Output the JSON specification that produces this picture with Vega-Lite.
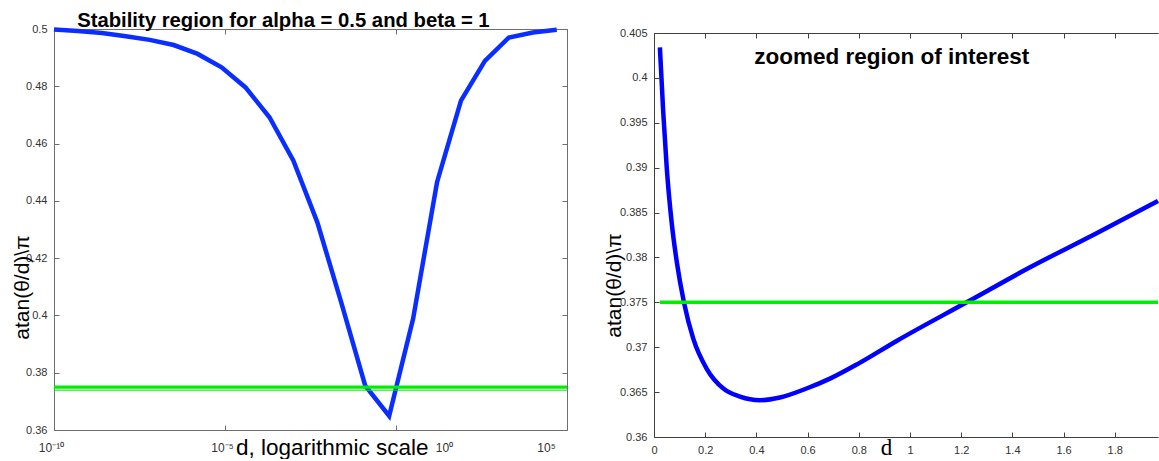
{
  "$schema": "https://vega.github.io/schema/vega-lite/v6.json",
  "autosize": {"type": "pad"},
  "padding": {"left": 11, "top": 11, "right": 0, "bottom": 0},
  "background": "white",
  "bounds": "flush",
  "spacing": 87,
  "config": {
    "view": {"stroke": null},
    "font": "Liberation Sans",
    "axis": {
      "grid": false,
      "labelFont": "Liberation Sans",
      "titleFont": "Liberation Sans",
      "labelColor": "#333333",
      "titleColor": "#000000",
      "titleFontWeight": "normal",
      "labelFlush": false,
      "labelOverlap": false,
      "tickSize": -5,
      "labelFontSize": 11
    }
  },
  "datasets": {
    "leftCurve": [
      {"d": 1e-10, "v": 0.4998},
      {"d": 5.012e-10, "v": 0.4993},
      {"d": 2.512e-9, "v": 0.4986},
      {"d": 1.259e-8, "v": 0.4975},
      {"d": 6.31e-8, "v": 0.4962},
      {"d": 3.162e-7, "v": 0.4944},
      {"d": 1.585e-6, "v": 0.4913},
      {"d": 7.943e-6, "v": 0.4866},
      {"d": 3.981e-5, "v": 0.4796},
      {"d": 1.995e-4, "v": 0.4692},
      {"d": 0.001, "v": 0.454},
      {"d": 0.005012, "v": 0.4325},
      {"d": 0.02512, "v": 0.4045},
      {"d": 0.1259, "v": 0.3755},
      {"d": 0.631, "v": 0.3649},
      {"d": 3.162, "v": 0.3988},
      {"d": 15.85, "v": 0.4465},
      {"d": 79.43, "v": 0.475},
      {"d": 398.1, "v": 0.4889},
      {"d": 1995, "v": 0.497},
      {"d": 10000, "v": 0.4988},
      {"d": 50119, "v": 0.4997}
    ],
    "leftGreen": [
      {"d": 1e-10, "v": 0.37494},
      {"d": 100000, "v": 0.37494}
    ],
    "leftGreenThin": [
      {"d": 1e-10, "v": 0.3739},
      {"d": 100000, "v": 0.3739}
    ],
    "leftTitle": [
      {"label": "Stability region for alpha = 0.5 and beta = 1"}
    ],
    "rightCurve": [
      {"d": 0.023, "v": 0.4034},
      {"d": 0.036, "v": 0.3962},
      {"d": 0.05, "v": 0.3899},
      {"d": 0.069, "v": 0.3839},
      {"d": 0.089, "v": 0.3795},
      {"d": 0.117, "v": 0.375},
      {"d": 0.154, "v": 0.3709},
      {"d": 0.206, "v": 0.3676},
      {"d": 0.271, "v": 0.3654},
      {"d": 0.336, "v": 0.3645},
      {"d": 0.414, "v": 0.3641},
      {"d": 0.492, "v": 0.3644},
      {"d": 0.596, "v": 0.3654},
      {"d": 0.6875, "v": 0.3665},
      {"d": 0.8, "v": 0.3682},
      {"d": 0.948, "v": 0.3707},
      {"d": 1.2215, "v": 0.375},
      {"d": 1.469, "v": 0.3789},
      {"d": 1.729, "v": 0.3827},
      {"d": 1.969, "v": 0.3863}
    ],
    "rightGreen": [
      {"d": 0.023, "v": 0.375},
      {"d": 1.969, "v": 0.375}
    ],
    "rightTitle": [
      {"label": "zoomed region of interest"}
    ]
  },
  "hconcat": [
    {
      "width": 513,
      "height": 401,
      "resolve": {"axis": {"x": "independent", "y": "independent"}},
      "layer": [
        {
          "data": {"name": "leftCurve"},
          "mark": {"type": "line", "color": "#0a2eff", "strokeWidth": 4.5},
          "encoding": {
            "x": {
              "field": "d", "type": "quantitative",
              "scale": {"type": "log", "domain": [1e-10, 100000], "nice": false},
              "axis": {
                "orient": "bottom",
                "values": [1e-10, 1e-5, 1, 100000],
                "labelExpr": "datum.value < 1e-7 ? '10⁻¹⁰' : datum.value < 0.01 ? '10⁻⁵' : datum.value < 10 ? '10⁰' : '10⁵'",
                "labelFontSize": 12,
                "labelPadding": 17,
                "labelOffset": {"condition": [{"test": "datum.value > 0.1 && datum.value < 10", "value": 48}, {"test": "datum.value > 1000", "value": -21}], "value": -3},
                "domainColor": "#6e6e6e",
                "tickColor": "#6e6e6e",
                "title": "d, logarithmic scale",
                "titleFontSize": 22.5,
                "titleX": 277.7,
                "titleY": 24.5,
                "titleBaseline": "alphabetic",
                "titleAlign": "center"
              }
            },
            "y": {
              "field": "v", "type": "quantitative",
              "scale": {"domain": [0.36, 0.5], "zero": false, "nice": false},
              "axis": {
                "orient": "left",
                "values": [0.36, 0.38, 0.4, 0.42, 0.44, 0.46, 0.48, 0.5],
                "format": "~g",
                "labelPadding": 12,
                "domainColor": "#6e6e6e",
                "tickColor": "#6e6e6e",
                "title": "atan(θ/d)\\π",
                "titleFontSize": 21,
                "titleX": -25.7,
                "titleY": 258,
                "titleAngle": 270,
                "titleBaseline": "alphabetic",
                "titleAlign": "center"
              }
            }
          }
        },
        {
          "data": {"name": "leftGreenThin"},
          "mark": {"type": "line", "color": "#00ee00", "strokeWidth": 1},
          "encoding": {
            "x": {"field": "d", "type": "quantitative", "axis": null},
            "y": {"field": "v", "type": "quantitative", "axis": null}
          }
        },
        {
          "data": {"name": "leftGreen"},
          "mark": {"type": "line", "color": "#00ee00", "strokeWidth": 3.3},
          "encoding": {
            "x": {
              "field": "d", "type": "quantitative",
              "axis": {"orient": "top", "values": [1e-10, 1e-5, 1, 100000], "labels": false, "title": null, "domainColor": "#6e6e6e", "tickColor": "#6e6e6e"}
            },
            "y": {
              "field": "v", "type": "quantitative",
              "axis": {"orient": "right", "values": [0.36, 0.38, 0.4, 0.42, 0.44, 0.46, 0.48, 0.5], "labels": false, "title": null, "domainColor": "#6e6e6e", "tickColor": "#6e6e6e"}
            }
          }
        },
        {
          "data": {"name": "leftTitle"},
          "mark": {"type": "text", "font": "Liberation Sans", "fontSize": 20.3, "fontWeight": "bold", "color": "#000000", "align": "center", "baseline": "alphabetic"},
          "encoding": {
            "x": {"datum": 0.00051, "type": "quantitative", "axis": null},
            "y": {"datum": 0.5006, "type": "quantitative", "axis": null},
            "text": {"field": "label"}
          }
        }
      ]
    },
    {
      "width": 504,
      "height": 408,
      "resolve": {"axis": {"x": "independent", "y": "independent"}},
      "layer": [
        {
          "data": {"name": "rightCurve"},
          "mark": {"type": "line", "color": "#0000ff", "strokeWidth": 4.5, "interpolate": "monotone"},
          "encoding": {
            "x": {
              "field": "d", "type": "quantitative",
              "scale": {"domain": [0, 1.969], "nice": false, "zero": false},
              "axis": {
                "orient": "bottom",
                "values": [0, 0.2, 0.4, 0.6, 0.8, 1, 1.2, 1.4, 1.6, 1.8],
                "format": "~g",
                "labelPadding": 12,
                "domainColor": "#404040",
                "tickColor": "#404040",
                "title": "d",
                "titleFont": "Liberation Serif",
                "titleFontSize": 23,
                "titleX": 232,
                "titleY": 17,
                "titleBaseline": "alphabetic",
                "titleAlign": "center"
              }
            },
            "y": {
              "field": "v", "type": "quantitative",
              "scale": {"domain": [0.36, 0.405], "range": [408, 4], "zero": false, "nice": false},
              "axis": {
                "orient": "left",
                "values": [0.36, 0.365, 0.37, 0.375, 0.38, 0.385, 0.39, 0.395, 0.4, 0.405],
                "format": "~g",
                "labelPadding": 12,
                "domainColor": "#404040",
                "tickColor": "#404040",
                "title": "atan(θ/d)\\π",
                "titleFontSize": 21,
                "titleX": -34,
                "titleY": 256,
                "titleAngle": 270,
                "titleBaseline": "alphabetic",
                "titleAlign": "center"
              }
            }
          }
        },
        {
          "data": {"name": "rightGreen"},
          "mark": {"type": "line", "color": "#00ee00", "strokeWidth": 3.5},
          "encoding": {
            "x": {
              "field": "d", "type": "quantitative",
              "axis": {"orient": "top", "offset": -4, "values": [0, 0.2, 0.4, 0.6, 0.8, 1, 1.2, 1.4, 1.6, 1.8], "labels": false, "title": null, "domainColor": "#404040", "tickColor": "#404040"}
            },
            "y": {"field": "v", "type": "quantitative", "axis": null}
          }
        },
        {
          "data": {"name": "rightTitle"},
          "mark": {"type": "text", "font": "Liberation Sans", "fontSize": 22.5, "fontWeight": "bold", "color": "#000000", "align": "center", "baseline": "alphabetic"},
          "encoding": {
            "x": {"datum": 0.9285, "type": "quantitative", "axis": null},
            "y": {"datum": 0.40155, "type": "quantitative", "axis": null},
            "text": {"field": "label"}
          }
        }
      ]
    }
  ]
}
